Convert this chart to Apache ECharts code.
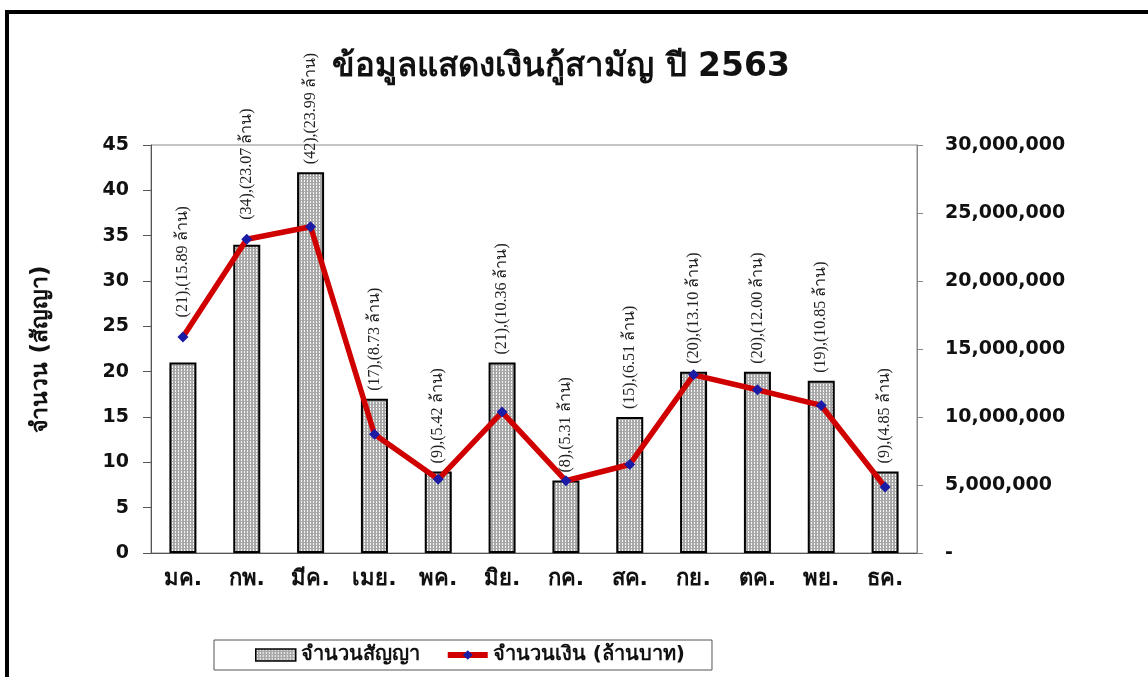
<!DOCTYPE html>
<html>
<head>
<meta charset="utf-8">
<script src="https://cdn.jsdelivr.net/npm/echarts@6/dist/echarts.min.js"></script>
<style>
  html, body { margin: 0; padding: 0; background: #fff; }
  #chart { width: 1148px; height: 677px; }
  .frame { position: absolute; left: 5px; top: 10px; right: 0; bottom: -10px;
           border-top: 4px solid #000; border-left: 4px solid #000; pointer-events: none; }
</style>
</head>
<body>
<div id="chart"></div>
<div class="frame"></div>
<script>
  var months = ['มค.', 'กพ.', 'มีค.', 'เมย.', 'พค.', 'มิย.', 'กค.', 'สค.', 'กย.', 'ตค.', 'พย.', 'ธค.'];
  var contracts = [21, 34, 42, 17, 9, 21, 8, 15, 20, 20, 19, 9];
  var amounts = [15890000, 23070000, 23990000, 8730000, 5420000, 10360000, 5310000, 6510000, 13100000, 12000000, 10850000, 4850000];
  var leftTicks = { min: 0, max: 45, interval: 5 };
  var rightTicks = { min: 0, max: 30000000, interval: 5000000 };

  var sans = '"DejaVu Sans", "Noto Sans", sans-serif';

  // hatched grey fill for the bars
  var pat = document.createElement('canvas');
  pat.width = 3; pat.height = 3;
  var pc = pat.getContext('2d');
  pc.fillStyle = '#a8a8a8';
  pc.fillRect(0, 0, 3, 3);
  pc.fillStyle = '#f6f6f6';
  pc.fillRect(1, 0, 1, 2);

  var labelStyle = {
    show: true,
    position: 'top',
    rotate: 90,
    align: 'left',
    verticalAlign: 'middle',
    distance: 8,
    fontFamily: '"Liberation Serif", "DejaVu Serif", serif',
    fontSize: 16,
    color: '#222'
  };

  function labelText(i) {
    return '(' + contracts[i] + '),(' + (amounts[i] / 1000000).toFixed(2) + ' ล้าน)';
  }

  var barData = [], lineData = [];
  for (var i = 0; i < months.length; i++) {
    var lineHigher = amounts[i] / rightTicks.max > contracts[i] / leftTicks.max;
    barData.push({ value: contracts[i], label: { show: !lineHigher } });
    lineData.push({ value: amounts[i], label: { show: lineHigher } });
  }

  var chart = echarts.init(document.getElementById('chart'));
  var option = {
    animation: false,
    backgroundColor: '#fff',
    title: {
      text: 'ข้อมูลแสดงเงินกู้สามัญ ปี 2563',
      left: 556,
      top: 46,
      textAlign: 'center',
      textStyle: { fontSize: 33, fontWeight: 'bold', color: '#111', fontFamily: sans }
    },
    legend: {
      left: 214,
      top: 640,
      padding: [5, 27, 5, 41],
      itemGap: 25,
      itemWidth: 40,
      itemHeight: 12,
      borderColor: '#555',
      borderWidth: 1,
      lineStyle: { width: 6 },
      textStyle: { fontSize: 20, fontWeight: 'bold', color: '#111', fontFamily: sans },
      data: [
        { name: 'จำนวนสัญญา', icon: 'rect', itemStyle: { borderWidth: 1.5 } },
        { name: 'จำนวนเงิน (ล้านบาท)' }
      ]
    },
    grid: {
      left: 151, right: 231, top: 145, bottom: 124,
      show: true, borderColor: '#8a8a8a', borderWidth: 1
    },
    xAxis: {
      type: 'category',
      data: months,
      axisLine: { lineStyle: { color: '#555', width: 1 } },
      axisTick: { length: 7, lineStyle: { color: '#555' } },
      axisLabel: { fontSize: 22, fontWeight: 'bold', color: '#111', margin: 15, fontFamily: sans }
    },
    yAxis: [
      {
        type: 'value',
        min: leftTicks.min, max: leftTicks.max, interval: leftTicks.interval,
        name: 'จำนวน (สัญญา)',
        nameLocation: 'middle',
        nameGap: 98,
        nameTextStyle: { fontSize: 23, fontWeight: 'bold', color: '#111', fontFamily: sans },
        splitLine: { show: false },
        axisLine: { show: true, lineStyle: { color: '#555' } },
        axisTick: { show: true, length: 8, lineStyle: { color: '#555' } },
        axisLabel: { fontSize: 19, fontWeight: 'bold', color: '#111', margin: 22, fontFamily: sans }
      },
      {
        type: 'value',
        position: 'right',
        min: rightTicks.min, max: rightTicks.max, interval: rightTicks.interval,
        splitLine: { show: false },
        axisLine: { show: true, lineStyle: { color: '#888' } },
        axisTick: { show: true, length: 6, lineStyle: { color: '#888' } },
        axisLabel: {
          fontSize: 19, fontWeight: 'bold', color: '#111', margin: 28,
          fontFamily: sans,
          formatter: function (v) { return v === 0 ? '-' : v.toLocaleString('en-US'); }
        }
      }
    ],
    series: [
      {
        name: 'จำนวนสัญญา',
        type: 'bar',
        barWidth: 27,
        data: barData,
        itemStyle: { color: { image: pat, repeat: 'repeat' }, borderColor: '#000', borderWidth: 2 },
        label: Object.assign({}, labelStyle, {
          formatter: function (p) { return labelText(p.dataIndex); }
        })
      },
      {
        name: 'จำนวนเงิน (ล้านบาท)',
        type: 'line',
        yAxisIndex: 1,
        data: lineData,
        z: 5,
        symbol: 'diamond',
        symbolSize: 11,
        lineStyle: { color: '#d00000', width: 5.5 },
        itemStyle: { color: '#1b1ba5' },
        label: Object.assign({}, labelStyle, {
          distance: 14,
          formatter: function (p) { return labelText(p.dataIndex); }
        })
      }
    ]
  };
  chart.setOption(option);
  window.addEventListener('resize', function () {
    chart.resize();
  });
</script>
</body>
</html>
